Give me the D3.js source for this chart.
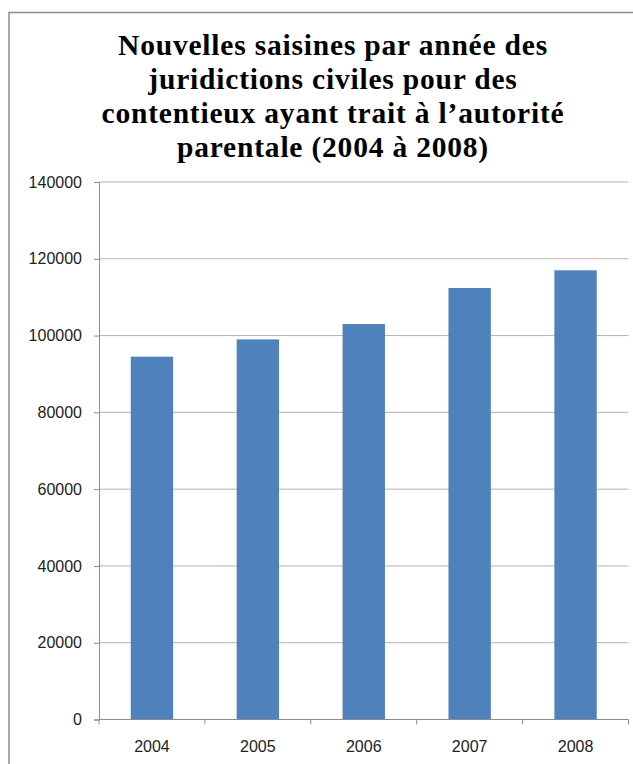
<!DOCTYPE html>
<html>
<head>
<meta charset="utf-8">
<script src="https://cdn.jsdelivr.net/npm/d3@7"></script>
<style>
  body { margin: 0; background: #fff; }
  svg { display: block; }
</style>
</head>
<body>
<div id="chart"></div>
<script>
// data
const years = ["2004", "2005", "2006", "2007", "2008"];
const saisines = [94500, 99000, 103000, 112400, 117000];
const yTicks = [0, 20000, 40000, 60000, 80000, 100000, 120000, 140000];
const titleLines = [
    "Nouvelles saisines par année des",
    "juridictions civiles pour des",
    "contentieux ayant trait à l\u2019autorité",
    "parentale (2004 à 2008)"
];

const W = 633, H = 764;
const plot = { left: 99, right: 628.5, top: 182, bottom: 719.5 };

const svg = d3.select("#chart").append("svg")
    .attr("width", W)
    .attr("height", H);

// chart frame, runs off the right and bottom edges
svg.append("rect")
    .attr("x", 9).attr("y", 12.5)
    .attr("width", 700).attr("height", 800)
    .attr("fill", "#fff")
    .attr("stroke", "#8c8c8c")
    .attr("stroke-width", 1.5);

// title
const title = svg.append("text")
    .attr("text-anchor", "middle")
    .style("font-family", "'Liberation Serif', 'Times New Roman', serif")
    .style("font-weight", "bold")
    .style("font-size", "29.5px")
    .style("letter-spacing", "0.8px")
    .attr("fill", "#000");
titleLines.forEach((line, i) => {
    title.append("tspan")
        .attr("x", 333)
        .attr("y", 55 + i * 34)
        .text(line);
});

const x = d3.scaleBand()
    .domain(years)
    .range([plot.left, plot.right])
    .paddingInner(0.6)
    .paddingOuter(0.3);

const y = d3.scaleLinear()
    .domain([0, 140000])
    .range([plot.bottom, plot.top]);

// gridlines
svg.append("g")
    .selectAll("line")
    .data(yTicks.filter(d => d > 0))
    .join("line")
    .attr("x1", plot.left).attr("x2", plot.right)
    .attr("y1", d => y(d)).attr("y2", d => y(d))
    .attr("stroke", "#b3b3b3")
    .attr("stroke-width", 1);

// bars
svg.append("g")
    .selectAll("rect")
    .data(saisines)
    .join("rect")
    .attr("x", (d, i) => x(years[i]))
    .attr("y", d => y(d))
    .attr("width", x.bandwidth())
    .attr("height", d => y(0) - y(d))
    .attr("fill", "#4f81bd");

// y axis
const yAxis = svg.append("g")
    .attr("transform", `translate(${plot.left},0)`)
    .call(d3.axisLeft(y).tickValues(yTicks).tickFormat(d3.format("d")).tickSize(5).tickPadding(12));
yAxis.select(".domain").attr("stroke", "#8c8c8c");
yAxis.selectAll(".tick line").attr("stroke", "#8c8c8c");
yAxis.selectAll("text")
    .style("font-family", "'Liberation Sans', Arial, sans-serif")
    .style("font-size", "16px")
    .attr("fill", "#222");

// x axis: ticks between categories like the original
const xAxis = svg.append("g")
    .attr("transform", `translate(0,${plot.bottom})`);
xAxis.append("line")
    .attr("x1", plot.left).attr("x2", plot.right)
    .attr("stroke", "#8c8c8c");
const bounds = d3.range(years.length + 1).map(i => plot.left + i * (plot.right - plot.left) / years.length);
xAxis.selectAll(".xt")
    .data(bounds)
    .join("line")
    .attr("class", "xt")
    .attr("x1", d => d).attr("x2", d => d)
    .attr("y1", 0).attr("y2", 5)
    .attr("stroke", "#8c8c8c");
xAxis.selectAll(".xl")
    .data(years)
    .join("text")
    .attr("class", "xl")
    .attr("x", d => x(d) + x.bandwidth() / 2)
    .attr("y", 32)
    .attr("text-anchor", "middle")
    .style("font-family", "'Liberation Sans', Arial, sans-serif")
    .style("font-size", "16px")
    .attr("fill", "#222")
    .text(d => d);
</script>
</body>
</html>
